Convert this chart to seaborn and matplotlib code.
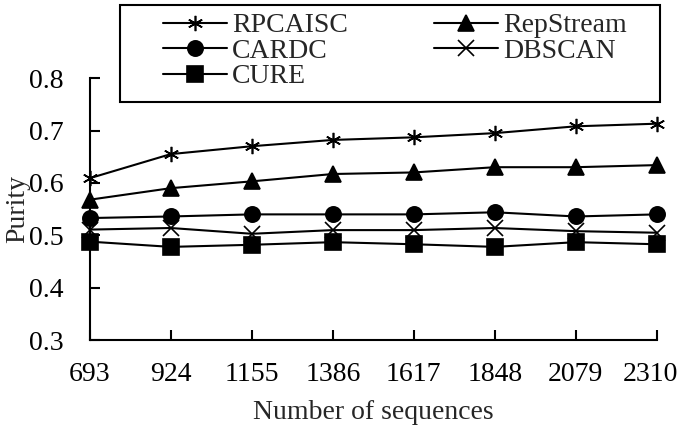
import matplotlib
matplotlib.use("Agg")
import matplotlib.pyplot as plt
import matplotlib.transforms as mtransforms
from matplotlib.patches import Rectangle
import seaborn as sns
import pandas as pd

# Datos
sequences = [693, 924, 1155, 1386, 1617, 1848, 2079, 2310]
rpcaisc = [0.609, 0.655, 0.670, 0.682, 0.687, 0.695, 0.708, 0.713]
repstream = [0.568, 0.590, 0.603, 0.617, 0.620, 0.630, 0.630, 0.634]
cardc = [0.533, 0.536, 0.540, 0.540, 0.540, 0.544, 0.536, 0.540]
dbscan = [0.511, 0.514, 0.503, 0.510, 0.510, 0.514, 0.508, 0.505]
cure = [0.488, 0.478, 0.482, 0.487, 0.483, 0.478, 0.487, 0.483]

series = {
    'RPCAISC': (rpcaisc, (6, 2, 0)),
    'CARDC': (cardc, 'o'),
    'CURE': (cure, 's'),
    'RepStream': (repstream, '^'),
    'DBSCAN': (dbscan, 'x'),
}

sns.set_style("ticks")
plt.rcParams['font.family'] = ['Liberation Serif', 'DejaVu Serif']

fig = plt.figure(figsize=(6.8, 4.29), dpi=100)
ax = fig.add_axes([0.132, 0.207, 0.834, 0.611])

for name, (vals, mk) in series.items():
    df = pd.DataFrame({'x': sequences, 'y': vals})
    sns.lineplot(data=df, x='x', y='y', ax=ax, color='black', marker=mk,
                 markersize=11, markeredgewidth=1.2, markeredgecolor='black',
                 linewidth=1.5, label=name, clip_on=False)

ax.set_xlim(693, 2310)
ax.set_ylim(0.3, 0.8)
ax.set_xticks(sequences)
ax.set_xticklabels([str(s) for s in sequences])
ax.set_yticks([0.3, 0.4, 0.5, 0.6, 0.7, 0.8])
ax.set_yticklabels(['0.3', '0.4', '0.5', '0.6', '0.7', '0.8'])
ax.tick_params(axis='both', direction='in', length=7, width=1.5, labelsize=20, colors='black')
ax.tick_params(axis='x', pad=16)
ax.tick_params(axis='y', pad=19)
for s in ['top', 'right']:
    ax.spines[s].set_visible(False)
for s in ['left', 'bottom']:
    ax.spines[s].set_linewidth(1.5)
    ax.spines[s].set_color('black')

# Correr un poco la última etiqueta para que no quede cortada
ultima = ax.get_xticklabels()[-1]
ultima.set_transform(ultima.get_transform() +
                     mtransforms.ScaledTranslation(-6 / 100, 0, fig.dpi_scale_trans))

ax.set_xlabel('Number of sequences', fontsize=20, labelpad=9)
ax.set_ylabel('Purity', fontsize=20, labelpad=-1)

# Marco de la leyenda
fig.patches.append(Rectangle((120 / 680, 1 - 102 / 429), 540 / 680, 97 / 429,
                             transform=fig.transFigure, fill=False,
                             edgecolor='black', linewidth=1.5))

handles, labels = ax.get_legend_handles_labels()
leg = fig.legend(handles, labels, ncol=2, loc='upper left',
                 bbox_to_anchor=(163 / 680, 1 - 13 / 429),
                 fontsize=20, frameon=False, borderaxespad=0, borderpad=0,
                 handlelength=2.3, handletextpad=0.18, labelspacing=0.0,
                 columnspacing=3.1)
ax.get_legend().remove()

fig.savefig('out.png', dpi=100)
